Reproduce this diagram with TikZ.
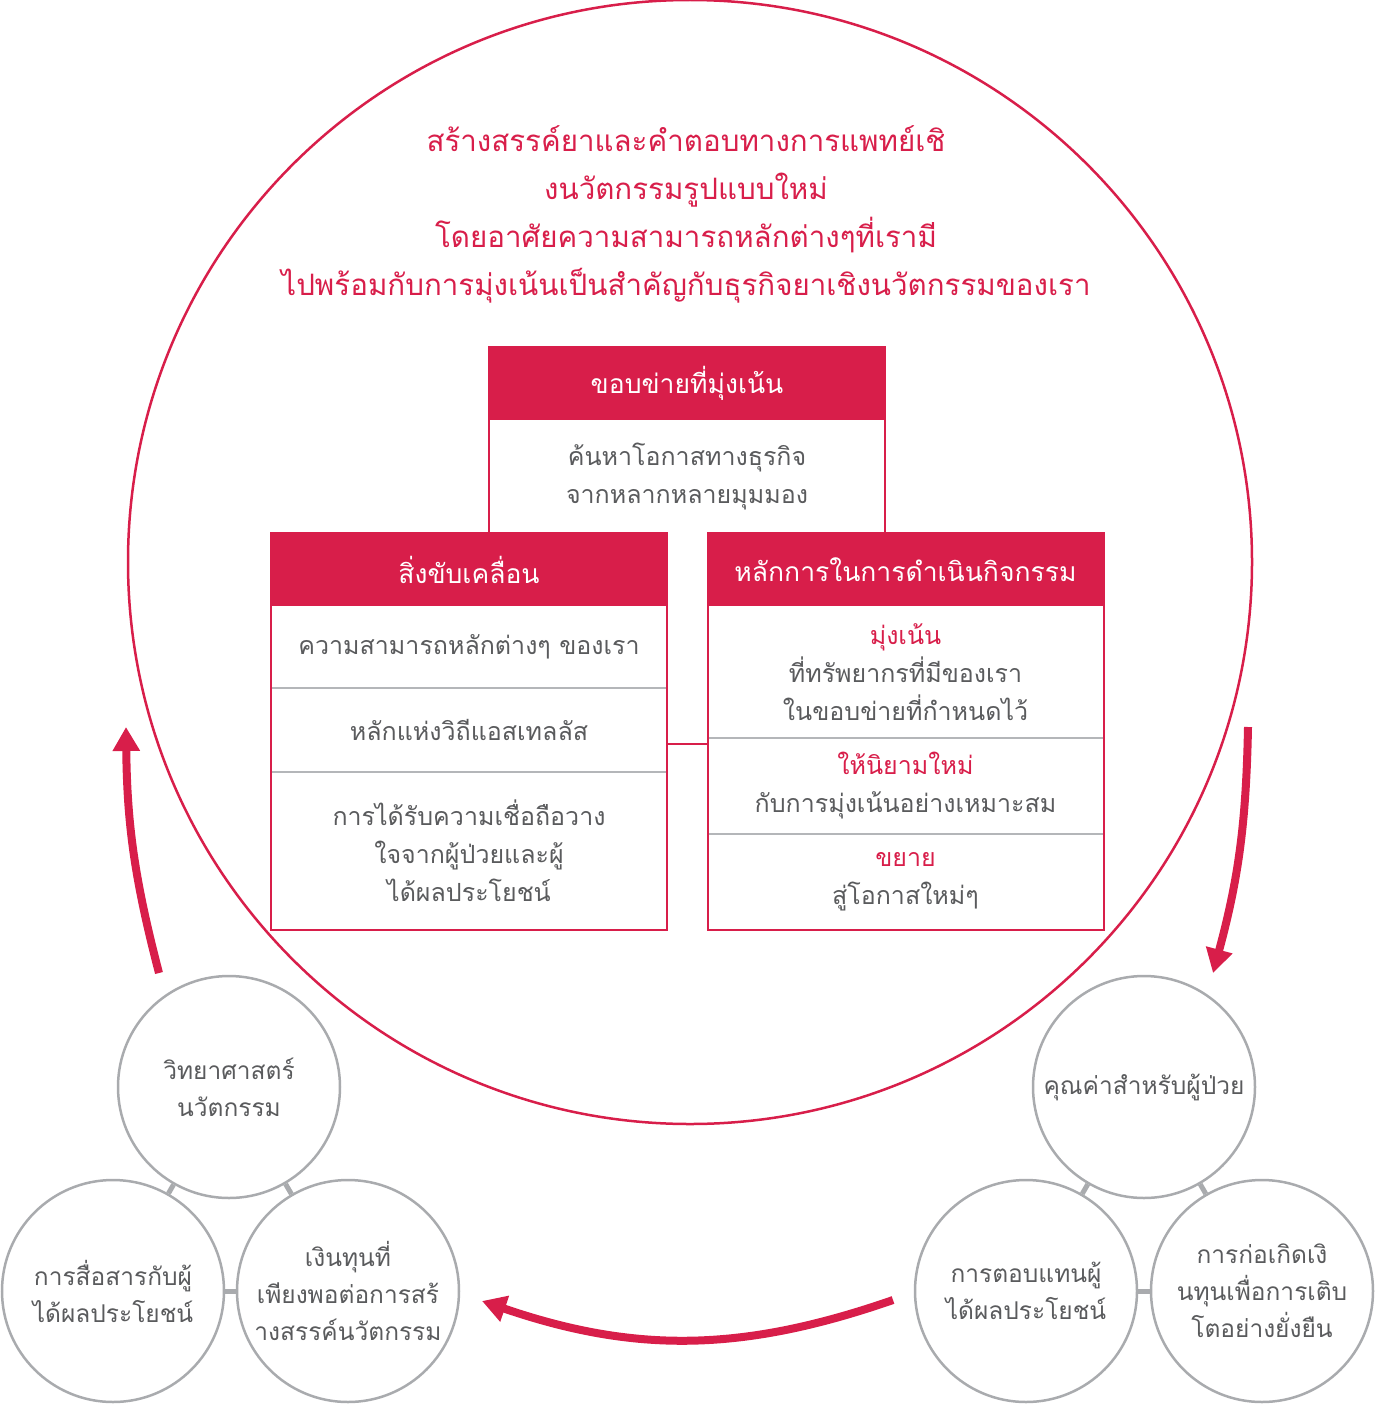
\documentclass[tikz,border=0pt]{standalone}
\usepackage{fontspec}
\setmainfont[Script=Thai]{Loma}
\usetikzlibrary{arrows.meta,positioning,calc,fit}
\definecolor{Crimson}{HTML}{D81E4A}
\definecolor{Ink}{HTML}{5A5B5D}
\definecolor{Ring}{HTML}{A9ABAE}
\definecolor{Rule}{HTML}{B4B6B9}
\tikzset{
  hdr/.style={fill=Crimson,text=white,minimum width=396pt,minimum height=73pt,inner sep=0pt,outer sep=0pt,font=\fontsize{26.5}{38}\selectfont},
  cell/.style={minimum width=396pt,inner sep=0pt,outer sep=0pt,align=center,text=Ink,font=\fontsize{25}{38}\selectfont},
  frame/.style={draw=Crimson,line width=2pt},
  sepline/.style={draw=Rule,line width=2pt},
  orb/.style={circle,draw=Ring,line width=2.5pt,minimum size=222pt,inner sep=0pt,align=center,text=Ink,font=\fontsize{24.5}{37}\selectfont},
  tie/.style={draw=Ring,line width=5pt},
  ring/.style={circle,draw=Crimson,line width=2.5pt,inner sep=0pt},
  flow/.style={draw=Crimson,line width=8pt,-{Triangle[length=24pt,width=26pt]}}
}
\begin{document}
\begin{tikzpicture}[x=1pt,y=-1pt,node distance=0pt]
  \useasboundingbox (0,0) rectangle (1375,1405);
  \node[ring,minimum size=1124pt] (globe) at (690,562) {};
  \node[text=Crimson,align=center,font=\fontsize{29.5}{48}\selectfont] (title) at (686,214)
    {สร้างสรรค์ยาและคำตอบทางการแพทย์เชิ\\งนวัตกรรมรูปแบบใหม่\\โดยอาศัยความสามารถหลักต่างๆที่เรามี\\ไปพร้อมกับการมุ่งเน้นเป็นสำคัญกับธุรกิจยาเชิงนวัตกรรมของเรา};

  % top box
  \node[hdr] (netH) at (687,383.5) {ขอบข่ายที่มุ่งเน้น};
  \node[cell,minimum height=113pt,below=of netH] (netB) {ค้นหาโอกาสทางธุรกิจ\\จากหลากหลายมุมมอง};
  \draw[frame] (netB.south west) -- (netH.north west) -- (netH.north east) -- (netB.south east);

  % left box
  \node[hdr] (drvH) at (469,569.5) {สิ่งขับเคลื่อน};
  \node[cell,minimum height=82pt,below=of drvH] (drv1) {ความสามารถหลักต่างๆ ของเรา};
  \node[cell,minimum height=84pt,below=of drv1] (drv2) {หลักแห่งวิถีแอสเทลลัส};
  \node[cell,minimum height=158pt,below=of drv2] (drv3) {การได้รับความเชื่อถือวาง\\ใจจากผู้ป่วยและผู้\\ได้ผลประโยชน์};
  \draw[sepline] (drv1.south west) -- (drv1.south east);
  \draw[sepline] (drv2.south west) -- (drv2.south east);
  \node[frame,fit=(drvH)(drv3),inner sep=0pt] (drv) {};

  % right box
  \node[hdr] (opH) at (905.5,569.5) {หลักการในการดำเนินกิจกรรม};
  \node[cell,minimum height=132pt,below=of opH] (op1) {{\color{Crimson}มุ่งเน้น}\\ที่ทรัพยากรที่มีของเรา\\ในขอบข่ายที่กำหนดไว้};
  \node[cell,minimum height=96pt,below=of op1] (op2) {{\color{Crimson}ให้นิยามใหม่}\\กับการมุ่งเน้นอย่างเหมาะสม};
  \node[cell,minimum height=96pt,below=of op2] (op3) {{\color{Crimson}ขยาย}\\สู่โอกาสใหม่ๆ};
  \draw[sepline] (op1.south west) -- (op1.south east);
  \draw[sepline] (op2.south west) -- (op2.south east);
  \node[frame,fit=(opH)(op3),inner sep=0pt] (op) {};

  \coordinate (link) at (0,744);
  \draw[frame] (drv.east |- link) -- (op.west |- link);

  % left cluster
  \node[orb] (sci) at (229,1087) {วิทยาศาสตร์\\นวัตกรรม};
  \node[orb] (talk) at (113,1291) {การสื่อสารกับผู้\\ได้ผลประโยชน์};
  \node[orb] (fund) at (348,1291) {เงินทุนที่\\เพียงพอต่อการสร้\\างสรรค์นวัตกรรม};
  \draw[tie] (sci) -- (talk);
  \draw[tie] (sci) -- (fund);
  \draw[tie] (talk) -- (fund);

  % right cluster
  \node[orb] (value) at (1144,1087) {คุณค่าสำหรับผู้ป่วย};
  \node[orb] (reward) at (1026,1291) {การตอบแทนผู้\\ได้ผลประโยชน์};
  \node[orb] (growth) at (1262,1291) {การก่อเกิดเงิ\\นทุนเพื่อการเติบ\\โตอย่างยั่งยืน};
  \draw[tie] (value) -- (reward);
  \draw[tie] (value) -- (growth);
  \draw[tie] (reward) -- (growth);

  % cycle arrows
  \coordinate (upT) at (159,973);
  \coordinate (upH) at (126,727);
  \coordinate (dnT) at (1248,727);
  \coordinate (dnH) at (1213,973);
  \coordinate (btT) at (893,1300);
  \coordinate (btH) at (482,1301);
  \draw[flow] (upT) to[bend left=7] (upH);
  \draw[flow] (dnT) to[bend left=7] (dnH);
  \draw[flow] (btT) to[bend left=19] (btH);
\end{tikzpicture}
\end{document}
